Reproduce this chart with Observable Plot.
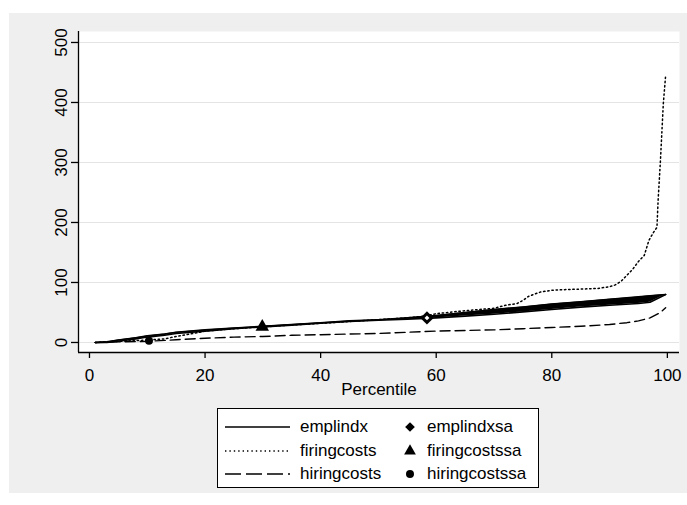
<!DOCTYPE html>
<html><head><meta charset="utf-8">
<script src="https://cdn.jsdelivr.net/npm/d3@7"></script>
<script src="https://cdn.jsdelivr.net/npm/@observablehq/plot@0.6"></script>
<style>
body{margin:0;background:#fff;font-family:"Liberation Sans",Arial,Helvetica,sans-serif;}
#wrap{position:relative;width:687px;height:505px;overflow:hidden;background:#fff}
#bg{position:absolute;left:9px;top:13px;width:678px;height:480px;background:#efefef}
#chart{position:absolute;left:0;top:0}
#legend{position:absolute;left:217px;top:408px;width:322px;height:80px;box-sizing:border-box;background:#fff;border:1px solid #000;font-size:17px;color:#000}
#legend .it{position:absolute;line-height:20px;height:20px;white-space:nowrap}
#legend svg{position:absolute}
</style></head>
<body>
<div id="wrap"><div id="bg"></div><div id="chart"></div><div id="legend"></div></div>
<script>
// ---- data ----
const pctEmpl   = [1,3,5,8,10,13,15,20,25,30,35,40,45,50,55,60,65,70,75,80,85,90,95,97,99.7];
const emplUpper = [0,1,4,8,11,14,17,21,24,27,30,33,36,38,41,45,50,55,59,64,68,72,76,78,80];
const emplLower = [0,0,2,6,9,12,15,19,23,26,29,32,35,37,39,41,44,47,51,55,59,62,65,67,80];

const pctFiring = [1,5,8,10,13,15,18,20,25,30,35,40,45,50,55,58,60,65,70,72,74,75,76,78,80,82,85,88,90,91,92,93,94,95,96,96.8,97.5,98.2,98.4,98.8,99.3,99.7];
const firingcosts = [0,2,3,4,6,10,15,19,23,26,29,32,35,38,41,44,48,53,57,62,65,70,77,84,87,88,89,90,93,96,102,112,122,135,145,170,182,192,237,303,398,445];

const pctHiring = [1,5,10,15,20,25,30,35,40,45,50,55,60,65,70,75,80,85,90,93,95,97,98.8,99.7];
const hiringcosts = [0,1,2,4.5,7,9,10,12,13,14,15,17,19,20,21,23,25,27,30,33,36,41,50,58];

const lineNames = ["emplindx","firingcosts","hiringcosts"];
const markerNames = ["emplindxsa","firingcostssa","hiringcostssa"];
const markerX = [58.4, 29.9, 10.3];
const markerY = [41, 26, 3];

const xTicks = [0,20,40,60,80,100];
const yTicks = [0,100,200,300,400,500];
const xLabel = "Percentile";
const xDomain = [-1.9, 102.1];
const yDomain = [-16.7, 518.3];

// ---- build tables ----
const empl = pctEmpl.map((p,i)=>({p, lo: emplLower[i], hi: emplUpper[i]}));
const fir = pctFiring.map((p,i)=>({p, v: firingcosts[i]}));
const hir = pctHiring.map((p,i)=>({p, v: hiringcosts[i]}));
const mk = markerNames.map((n,i)=>({n, x: markerX[i], y: markerY[i]}));

const dashes = [null, "1.4,2.8", "10,5"];
const FONT = '"Liberation Sans", Arial, Helvetica, sans-serif';

const chart = Plot.plot({
  width: 687, height: 400,
  marginLeft: 78, marginRight: 8, marginTop: 31, marginBottom: 48,
  x: {domain: xDomain},
  y: {domain: yDomain},
  style: {background: "transparent", fontSize: "17px", fontFamily: FONT, color: "#000", overflow: "visible"},
  marks: [
    Plot.frame({fill: "#fff", stroke: "none"}),
    Plot.gridY(yTicks, {stroke: "#e4e4e4", strokeOpacity: 1, strokeWidth: 1.2}),
    Plot.ruleX([xDomain[0]], {stroke: "#000", strokeWidth: 1.3}),
    Plot.ruleY([yDomain[0]], {stroke: "#000", strokeWidth: 1.3}),
    Plot.axisX(xTicks, {tickSize: 6, tickPadding: 10, label: null, strokeWidth: 1.3}),
    Plot.axisY(yTicks, {tickSize: 7, tickPadding: 5, tickRotate: -90, textAnchor: "middle", lineAnchor: "bottom", label: null, strokeWidth: 1.3}),
    Plot.text([xLabel], {frameAnchor: "bottom", dy: 37, lineAnchor: "middle", fontSize: 17}),
    Plot.areaY(empl, {x: "p", y1: "lo", y2: "hi", fill: "#000"}),
    Plot.line(empl, {x: "p", y: "hi", stroke: "#000", strokeWidth: 1.6}),
    Plot.line(empl, {x: "p", y: "lo", stroke: "#000", strokeWidth: 1.6}),
    Plot.line(fir, {x: "p", y: "v", stroke: "#000", strokeWidth: 1.5, strokeDasharray: dashes[1]}),
    Plot.line(hir, {x: "p", y: "v", stroke: "#000", strokeWidth: 1.4, strokeDasharray: dashes[2]}),
    Plot.dot([mk[0]], {x: "x", y: "y", symbol: "diamond2", r: 6, fill: "#000", stroke: "none"}),
    Plot.dot([mk[0]], {x: "x", y: "y", symbol: "diamond2", r: 2.2, fill: "#fff", stroke: "none"}),
    Plot.dot([mk[1]], {x: "x", y: "y", symbol: "triangle", r: 5, fill: "#000", stroke: "none"}),
    Plot.dot([mk[2]], {x: "x", y: "y", symbol: "circle", r: 4, fill: "#000", stroke: "none"})
  ]
});
document.getElementById("chart").appendChild(chart);

// ---- legend ----
const lg = document.getElementById("legend");
const rowY = [18, 42, 65];
const syms = [d3.symbolDiamond2, d3.symbolTriangle, d3.symbolCircle];
const symSize = [60, 60, 50];
lineNames.forEach((name, i) => {
  const s = document.createElementNS("http://www.w3.org/2000/svg", "svg");
  s.setAttribute("width", 66); s.setAttribute("height", 6);
  s.style.left = "7px"; s.style.top = (rowY[i] - 3) + "px";
  const l = document.createElementNS("http://www.w3.org/2000/svg", "line");
  l.setAttribute("x1", 0); l.setAttribute("x2", 65); l.setAttribute("y1", 3); l.setAttribute("y2", 3);
  l.setAttribute("stroke", "#000"); l.setAttribute("stroke-width", 1.3);
  if (dashes[i]) l.setAttribute("stroke-dasharray", i === 1 ? "1.4,3" : "16,5");
  s.appendChild(l); lg.appendChild(s);
  const t = document.createElement("div");
  t.className = "it"; t.textContent = name;
  t.style.left = "82px"; t.style.top = (rowY[i] - 10) + "px";
  lg.appendChild(t);
});
markerNames.forEach((name, i) => {
  const s = document.createElementNS("http://www.w3.org/2000/svg", "svg");
  s.setAttribute("width", 14); s.setAttribute("height", 14);
  s.style.left = (192 - 7) + "px"; s.style.top = (rowY[i] - 7) + "px";
  const p = document.createElementNS("http://www.w3.org/2000/svg", "path");
  p.setAttribute("d", d3.symbol(syms[i], symSize[i])());
  p.setAttribute("transform", "translate(7,7)");
  p.setAttribute("fill", "#000");
  s.appendChild(p); lg.appendChild(s);
  const t = document.createElement("div");
  t.className = "it"; t.textContent = name;
  t.style.left = "209px"; t.style.top = (rowY[i] - 10) + "px";
  lg.appendChild(t);
});
</script>
</body></html>
